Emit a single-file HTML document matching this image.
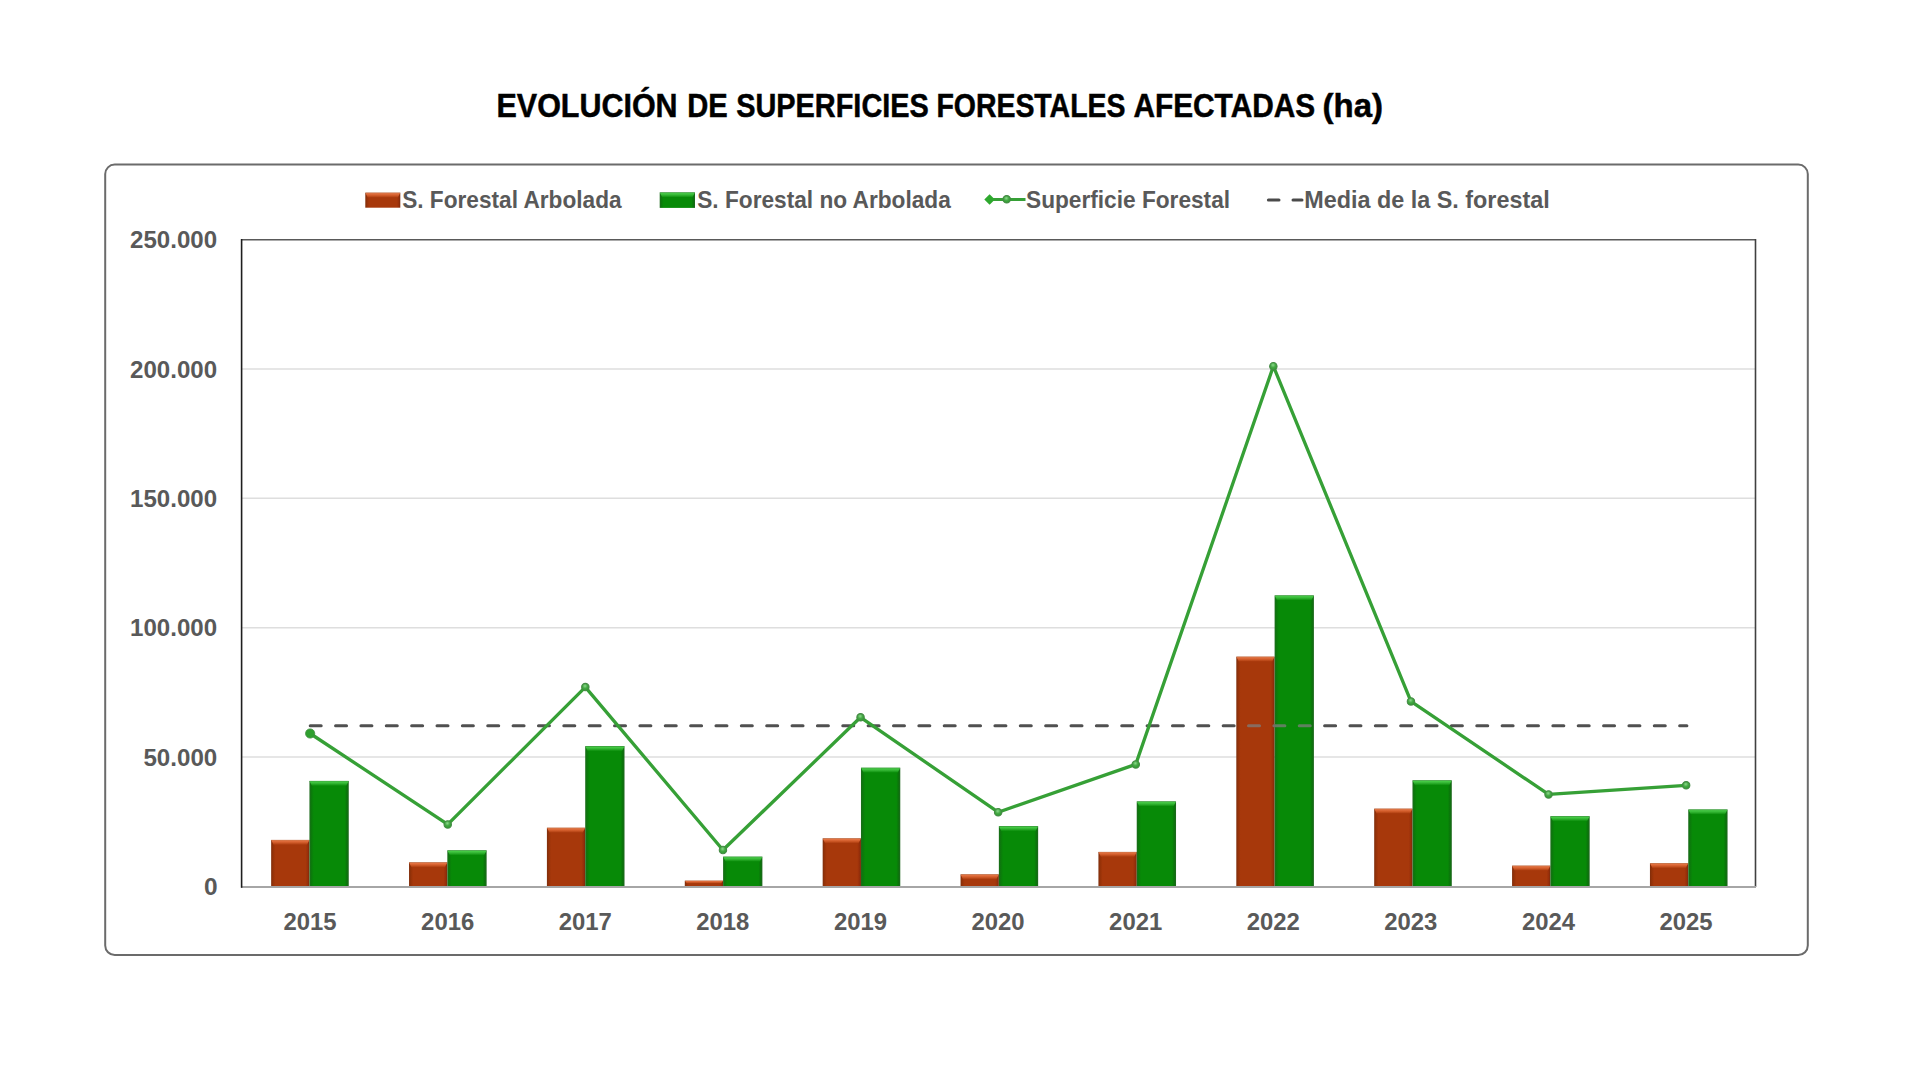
<!DOCTYPE html><html><head><meta charset="utf-8"><style>
html,body{margin:0;padding:0;background:#fff;width:1920px;height:1080px;overflow:hidden}
svg{display:block}
text{font-family:"Liberation Sans",sans-serif;font-weight:bold}
</style></head><body>
<svg width="1920" height="1080" viewBox="0 0 1920 1080">
<defs>
<linearGradient id="gtop" x1="0" y1="0" x2="0" y2="1"><stop offset="0" stop-color="#3f9f3f"/><stop offset="0.22" stop-color="#44c944"/><stop offset="0.5" stop-color="#33b533"/><stop offset="1" stop-color="#078a07"/></linearGradient>
<linearGradient id="otop" x1="0" y1="0" x2="0" y2="1"><stop offset="0" stop-color="#c9784c"/><stop offset="0.22" stop-color="#e2703f"/><stop offset="0.55" stop-color="#cf5a28"/><stop offset="1" stop-color="#a7380b"/></linearGradient>
<linearGradient id="gside" x1="0" y1="0" x2="1" y2="0"><stop offset="0" stop-color="#1c6a1c"/><stop offset="0.05" stop-color="#0b7a0b"/><stop offset="0.11" stop-color="#078a07"/><stop offset="0.9" stop-color="#078a07"/><stop offset="0.95" stop-color="#0a750a"/><stop offset="1" stop-color="#1e661e"/></linearGradient>
<linearGradient id="oside" x1="0" y1="0" x2="1" y2="0"><stop offset="0" stop-color="#7e2e0c"/><stop offset="0.05" stop-color="#963208"/><stop offset="0.11" stop-color="#a7380b"/><stop offset="0.9" stop-color="#a7380b"/><stop offset="0.95" stop-color="#9a300a"/><stop offset="1" stop-color="#7a2a0c"/></linearGradient>
<radialGradient id="mk" cx="0.45" cy="0.35" r="0.65"><stop offset="0" stop-color="#8ad98a"/><stop offset="0.5" stop-color="#45a845"/><stop offset="1" stop-color="#2f9a2f"/></radialGradient>
</defs>
<rect x="0" y="0" width="1920" height="1080" fill="#fff"/>
<text x="496.49" y="117.2" font-size="33.8" fill="#000" stroke="#000" stroke-width="0.5" textLength="181.12" lengthAdjust="spacingAndGlyphs">EVOLUCIÓN</text>
<text x="687.31" y="117.2" font-size="33.8" fill="#000" stroke="#000" stroke-width="0.5" textLength="40.47" lengthAdjust="spacingAndGlyphs">DE</text>
<text x="736.22" y="117.2" font-size="33.8" fill="#000" stroke="#000" stroke-width="0.5" textLength="192.57" lengthAdjust="spacingAndGlyphs">SUPERFICIES</text>
<text x="936.41" y="117.2" font-size="33.8" fill="#000" stroke="#000" stroke-width="0.5" textLength="189.05" lengthAdjust="spacingAndGlyphs">FORESTALES</text>
<text x="1133.39" y="117.2" font-size="33.8" fill="#000" stroke="#000" stroke-width="0.5" textLength="181.82" lengthAdjust="spacingAndGlyphs">AFECTADAS</text>
<text x="1322.59" y="117.2" font-size="33.8" fill="#000" stroke="#000" stroke-width="0.5" textLength="60.53" lengthAdjust="spacingAndGlyphs">(ha)</text>
<rect x="105.2" y="164.6" width="1702.6" height="790.5" rx="9.5" ry="9.5" fill="#fff" stroke="#6b6b6b" stroke-width="2"/>
<line x1="242" y1="757.1" x2="1755" y2="757.1" stroke="#dedede" stroke-width="1.5"/>
<line x1="242" y1="627.7" x2="1755" y2="627.7" stroke="#dedede" stroke-width="1.5"/>
<line x1="242" y1="498.3" x2="1755" y2="498.3" stroke="#dedede" stroke-width="1.5"/>
<line x1="242" y1="368.9" x2="1755" y2="368.9" stroke="#dedede" stroke-width="1.5"/>
<line x1="241.5" y1="239.7" x2="1755.5" y2="239.7" stroke="#595959" stroke-width="1.6"/>
<line x1="1755.5" y1="239" x2="1755.5" y2="887" stroke="#404040" stroke-width="1.6"/>
<line x1="241" y1="887" x2="1756" y2="887" stroke="#a6a6a6" stroke-width="1.8"/>
<line x1="241.6" y1="239" x2="241.6" y2="887.8" stroke="#1e1e1e" stroke-width="1.6"/>
<line x1="310.2" y1="725.75" x2="1686.9" y2="725.75" stroke="#505050" stroke-width="3" stroke-linecap="round" stroke-dasharray="11 14.36"/>
<rect x="271.15" y="839.90" width="38.30" height="46.10" fill="url(#oside)"/>
<polygon points="271.15,839.90 309.45,839.90 306.85,844.90 273.75,844.90" fill="url(#otop)"/>
<rect x="309.45" y="780.90" width="39.30" height="105.10" fill="url(#gside)"/>
<polygon points="309.45,780.90 348.75,780.90 346.15,785.90 312.05,785.90" fill="url(#gtop)"/>
<rect x="409.03" y="862.40" width="38.30" height="23.60" fill="url(#oside)"/>
<polygon points="409.03,862.40 447.33,862.40 444.73,867.40 411.63,867.40" fill="url(#otop)"/>
<rect x="447.33" y="850.40" width="39.30" height="35.60" fill="url(#gside)"/>
<polygon points="447.33,850.40 486.63,850.40 484.03,855.40 449.93,855.40" fill="url(#gtop)"/>
<rect x="546.91" y="827.80" width="38.30" height="58.20" fill="url(#oside)"/>
<polygon points="546.91,827.80 585.21,827.80 582.61,832.80 549.51,832.80" fill="url(#otop)"/>
<rect x="585.21" y="746.20" width="39.30" height="139.80" fill="url(#gside)"/>
<polygon points="585.21,746.20 624.51,746.20 621.91,751.20 587.81,751.20" fill="url(#gtop)"/>
<rect x="684.79" y="880.70" width="38.30" height="5.30" fill="url(#oside)"/>
<polygon points="684.79,880.70 723.09,880.70 720.97,883.62 686.91,883.62" fill="url(#otop)"/>
<rect x="723.09" y="856.70" width="39.30" height="29.30" fill="url(#gside)"/>
<polygon points="723.09,856.70 762.39,856.70 759.79,861.70 725.69,861.70" fill="url(#gtop)"/>
<rect x="822.67" y="838.40" width="38.30" height="47.60" fill="url(#oside)"/>
<polygon points="822.67,838.40 860.97,838.40 858.37,843.40 825.27,843.40" fill="url(#otop)"/>
<rect x="860.97" y="767.80" width="39.30" height="118.20" fill="url(#gside)"/>
<polygon points="860.97,767.80 900.27,767.80 897.67,772.80 863.57,772.80" fill="url(#gtop)"/>
<rect x="960.55" y="874.40" width="38.30" height="11.60" fill="url(#oside)"/>
<polygon points="960.55,874.40 998.85,874.40 996.25,879.40 963.15,879.40" fill="url(#otop)"/>
<rect x="998.85" y="826.20" width="39.30" height="59.80" fill="url(#gside)"/>
<polygon points="998.85,826.20 1038.15,826.20 1035.55,831.20 1001.45,831.20" fill="url(#gtop)"/>
<rect x="1098.43" y="851.90" width="38.30" height="34.10" fill="url(#oside)"/>
<polygon points="1098.43,851.90 1136.73,851.90 1134.13,856.90 1101.03,856.90" fill="url(#otop)"/>
<rect x="1136.73" y="801.50" width="39.30" height="84.50" fill="url(#gside)"/>
<polygon points="1136.73,801.50 1176.03,801.50 1173.43,806.50 1139.33,806.50" fill="url(#gtop)"/>
<rect x="1236.31" y="656.70" width="38.30" height="229.30" fill="url(#oside)"/>
<polygon points="1236.31,656.70 1274.61,656.70 1272.01,661.70 1238.91,661.70" fill="url(#otop)"/>
<rect x="1274.61" y="595.50" width="39.30" height="290.50" fill="url(#gside)"/>
<polygon points="1274.61,595.50 1313.91,595.50 1311.31,600.50 1277.21,600.50" fill="url(#gtop)"/>
<rect x="1374.19" y="808.70" width="38.30" height="77.30" fill="url(#oside)"/>
<polygon points="1374.19,808.70 1412.49,808.70 1409.89,813.70 1376.79,813.70" fill="url(#otop)"/>
<rect x="1412.49" y="780.40" width="39.30" height="105.60" fill="url(#gside)"/>
<polygon points="1412.49,780.40 1451.79,780.40 1449.19,785.40 1415.09,785.40" fill="url(#gtop)"/>
<rect x="1512.07" y="865.70" width="38.30" height="20.30" fill="url(#oside)"/>
<polygon points="1512.07,865.70 1550.37,865.70 1547.77,870.70 1514.67,870.70" fill="url(#otop)"/>
<rect x="1550.37" y="816.30" width="39.30" height="69.70" fill="url(#gside)"/>
<polygon points="1550.37,816.30 1589.67,816.30 1587.07,821.30 1552.97,821.30" fill="url(#gtop)"/>
<rect x="1649.95" y="863.30" width="38.30" height="22.70" fill="url(#oside)"/>
<polygon points="1649.95,863.30 1688.25,863.30 1685.65,868.30 1652.55,868.30" fill="url(#otop)"/>
<rect x="1688.25" y="809.60" width="39.30" height="76.40" fill="url(#gside)"/>
<polygon points="1688.25,809.60 1727.55,809.60 1724.95,814.60 1690.85,814.60" fill="url(#gtop)"/>
<clipPath id="c22"><rect x="1236" y="700" width="79" height="50"/></clipPath>
<line x1="310.2" y1="725.75" x2="1686.9" y2="725.75" stroke="#7d7d7d" stroke-opacity="0.75" stroke-width="3" stroke-linecap="round" stroke-dasharray="11 14.36" clip-path="url(#c22)"/>
<polyline points="310.15,733.50 447.75,824.40 585.35,687.10 722.95,850.00 860.55,717.30 998.15,812.20 1135.75,764.40 1273.35,366.20 1410.95,701.40 1548.55,794.40 1686.15,785.30" fill="none" stroke="#36a036" stroke-width="3.3" stroke-linejoin="round"/>
<circle cx="310.15" cy="733.50" r="4.6" fill="#2fa02f" stroke="#3d8d3d" stroke-width="0.8"/>
<circle cx="447.75" cy="824.40" r="3.7" fill="url(#mk)" stroke="#458a45" stroke-width="1.1"/>
<circle cx="585.35" cy="687.10" r="3.7" fill="url(#mk)" stroke="#458a45" stroke-width="1.1"/>
<circle cx="722.95" cy="850.00" r="3.7" fill="url(#mk)" stroke="#458a45" stroke-width="1.1"/>
<circle cx="860.55" cy="717.30" r="3.7" fill="url(#mk)" stroke="#458a45" stroke-width="1.1"/>
<circle cx="998.15" cy="812.20" r="3.7" fill="url(#mk)" stroke="#458a45" stroke-width="1.1"/>
<circle cx="1135.75" cy="764.40" r="3.7" fill="url(#mk)" stroke="#458a45" stroke-width="1.1"/>
<circle cx="1273.35" cy="366.20" r="3.7" fill="url(#mk)" stroke="#458a45" stroke-width="1.1"/>
<circle cx="1410.95" cy="701.40" r="3.7" fill="url(#mk)" stroke="#458a45" stroke-width="1.1"/>
<circle cx="1548.55" cy="794.40" r="3.7" fill="url(#mk)" stroke="#458a45" stroke-width="1.1"/>
<circle cx="1686.15" cy="785.30" r="3.7" fill="url(#mk)" stroke="#458a45" stroke-width="1.1"/>
<text x="204.0" y="895.1" font-size="23.4" fill="#595959" textLength="13.6" lengthAdjust="spacingAndGlyphs">0</text>
<text x="143.42" y="765.7" font-size="23.4" fill="#595959" textLength="73.87" lengthAdjust="spacingAndGlyphs">50.000</text>
<text x="130.03" y="636.3" font-size="23.4" fill="#595959" textLength="87.09" lengthAdjust="spacingAndGlyphs">100.000</text>
<text x="130.03" y="506.9" font-size="23.4" fill="#595959" textLength="87.09" lengthAdjust="spacingAndGlyphs">150.000</text>
<text x="130.03" y="377.5" font-size="23.4" fill="#595959" textLength="87.09" lengthAdjust="spacingAndGlyphs">200.000</text>
<text x="130.03" y="248.1" font-size="23.4" fill="#595959" textLength="87.09" lengthAdjust="spacingAndGlyphs">250.000</text>
<text x="283.52" y="929.8" font-size="23.4" fill="#595959" textLength="53.09" lengthAdjust="spacingAndGlyphs">2015</text>
<text x="421.12" y="929.8" font-size="23.4" fill="#595959" textLength="53.09" lengthAdjust="spacingAndGlyphs">2016</text>
<text x="558.72" y="929.8" font-size="23.4" fill="#595959" textLength="53.09" lengthAdjust="spacingAndGlyphs">2017</text>
<text x="696.32" y="929.8" font-size="23.4" fill="#595959" textLength="53.09" lengthAdjust="spacingAndGlyphs">2018</text>
<text x="833.92" y="929.8" font-size="23.4" fill="#595959" textLength="53.09" lengthAdjust="spacingAndGlyphs">2019</text>
<text x="971.52" y="929.8" font-size="23.4" fill="#595959" textLength="53.09" lengthAdjust="spacingAndGlyphs">2020</text>
<text x="1109.12" y="929.8" font-size="23.4" fill="#595959" textLength="53.09" lengthAdjust="spacingAndGlyphs">2021</text>
<text x="1246.72" y="929.8" font-size="23.4" fill="#595959" textLength="53.09" lengthAdjust="spacingAndGlyphs">2022</text>
<text x="1384.32" y="929.8" font-size="23.4" fill="#595959" textLength="53.09" lengthAdjust="spacingAndGlyphs">2023</text>
<text x="1521.92" y="929.8" font-size="23.4" fill="#595959" textLength="53.09" lengthAdjust="spacingAndGlyphs">2024</text>
<text x="1659.52" y="929.8" font-size="23.4" fill="#595959" textLength="53.09" lengthAdjust="spacingAndGlyphs">2025</text>
<rect x="365.30" y="192.70" width="35.00" height="15.00" fill="url(#oside)"/>
<polygon points="365.30,192.70 400.30,192.70 397.70,197.70 367.90,197.70" fill="url(#otop)"/>
<text x="402.17" y="207.8" font-size="23.2" fill="#595959" textLength="219.43" lengthAdjust="spacingAndGlyphs">S. Forestal Arbolada</text>
<rect x="659.70" y="192.50" width="35.30" height="15.40" fill="url(#gside)"/>
<polygon points="659.70,192.50 695.00,192.50 692.40,197.50 662.30,197.50" fill="url(#gtop)"/>
<text x="697.25" y="207.8" font-size="23.2" fill="#595959" textLength="253.55" lengthAdjust="spacingAndGlyphs">S. Forestal no Arbolada</text>
<line x1="986" y1="199.5" x2="1025.5" y2="199.5" stroke="#36a036" stroke-width="3.2"/>
<polygon points="984.3,199.5 989.6,194.2 994.9,199.5 989.6,204.8" fill="#2ea82e"/>
<circle cx="1006.7" cy="199.3" r="3.7" fill="url(#mk)" stroke="#458a45" stroke-width="1.1"/>
<text x="1026.04" y="207.8" font-size="23.2" fill="#595959" textLength="204.02" lengthAdjust="spacingAndGlyphs">Superficie Forestal</text>
<line x1="1268.4" y1="200" x2="1279" y2="200" stroke="#4a4a4a" stroke-width="3" stroke-linecap="round"/>
<line x1="1293" y1="200" x2="1302" y2="200" stroke="#4a4a4a" stroke-width="3" stroke-linecap="round"/>
<text x="1304.16" y="207.8" font-size="23.2" fill="#595959" textLength="245.57" lengthAdjust="spacingAndGlyphs">Media de la S. forestal</text>
</svg></body></html>
